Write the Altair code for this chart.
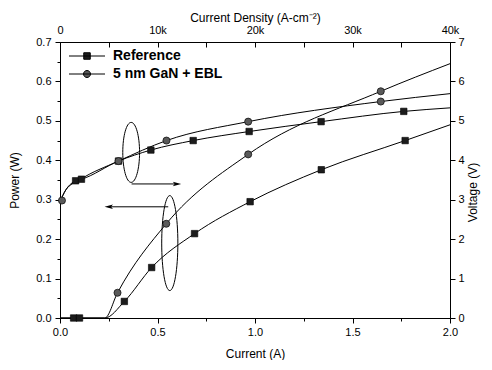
import altair as alt
import pandas as pd

series_names = ["Reference", "5 nm GaN + EBL"]

# ---- Power (W) vs Current (A) : curves ----
ref_p_line_I = [0.0, 0.23, 0.33, 0.47, 0.69, 0.975, 1.34, 1.77, 2.0]
ref_p_line_P = [0.0, 0.0, 0.042, 0.128, 0.214, 0.295, 0.376, 0.45, 0.49]
ebl_p_line_I = [0.0, 0.23, 0.295, 0.545, 0.965, 1.645, 2.0]
ebl_p_line_P = [0.0, 0.0, 0.064, 0.239, 0.415, 0.575, 0.645]
# markers
ref_p_mk_I = [0.07, 0.10, 0.33, 0.47, 0.69, 0.975, 1.34, 1.77]
ref_p_mk_P = [0.0, 0.0, 0.042, 0.128, 0.214, 0.295, 0.376, 0.45]
ebl_p_mk_I = [0.295, 0.545, 0.965, 1.645]
ebl_p_mk_P = [0.064, 0.239, 0.415, 0.575]

# ---- Voltage (V) vs Current (A) ----
ref_v_line_I = [0.0, 0.03, 0.08, 0.11, 0.30, 0.466, 0.683, 0.97, 1.339, 1.763, 2.0]
ref_v_line_V = [2.95, 3.25, 3.48, 3.52, 3.98, 4.26, 4.50, 4.73, 4.98, 5.24, 5.33]
ebl_v_line_I = [0.0, 0.03, 0.10, 0.30, 0.546, 0.965, 1.645, 2.0]
ebl_v_line_V = [2.95, 3.25, 3.50, 3.98, 4.50, 4.98, 5.49, 5.69]
ref_v_mk_I = [0.08, 0.11, 0.30, 0.466, 0.683, 0.97, 1.339, 1.763]
ref_v_mk_V = [3.48, 3.52, 3.98, 4.26, 4.50, 4.73, 4.98, 5.24]
ebl_v_mk_I = [0.01, 0.30, 0.546, 0.965, 1.645]
ebl_v_mk_V = [2.98, 3.98, 4.50, 4.98, 5.49]

# ---- annotations (in current / power units) ----
ellipse_I = [0.365, 0.563]
ellipse_P = [0.42, 0.19]
arrow_from_I = [0.367, 0.555]
arrow_to_I = [0.60, 0.25]
arrow_P = [0.34, 0.282]

# ---- ticks ----
x_ticks = [0.0, 0.25, 0.5, 0.75, 1.0, 1.25, 1.5, 1.75, 2.0]
p_ticks = [0.0, 0.05, 0.1, 0.15, 0.2, 0.25, 0.3, 0.35, 0.4, 0.45, 0.5, 0.55, 0.6, 0.65, 0.7]
v_ticks = [0, 0.5, 1, 1.5, 2, 2.5, 3, 3.5, 4, 4.5, 5, 5.5, 6, 6.5, 7]

FONT = "Liberation Sans"


def frame(I, Y, name):
    return pd.DataFrame({"I": I, "Y": Y, "s": name})


xscale = alt.Scale(domain=[0, 2], nice=False, zero=False)
pscale = alt.Scale(domain=[0, 0.7], nice=False)
vscale = alt.Scale(domain=[0, 7], nice=False)

major2 = "abs(datum.value*2 - round(datum.value*2)) < 0.001"
major10 = "abs(datum.value*10 - round(datum.value*10)) < 0.001"
major1 = "abs(datum.value - round(datum.value)) < 0.001"

bottom_axis = alt.Axis(orient="bottom", values=x_ticks, format=".1f",
                       labelExpr=f"{major2} ? datum.label : ''",
                       tickSize={"condition": {"test": major2, "value": 5}, "value": 3},
                       title="Current (A)", titlePadding=11, labelPadding=3,
                       labelFlush=False, labelOverlap=False, grid=False)
top_axis = alt.Axis(orient="top", values=x_ticks, offset=-5, domain=False,
                    labelExpr=f"datum.value == 0 ? '0' : ({major2} ? format(datum.value*20, '.0f') + 'k' : '')",
                    tickSize=5, labelPadding=7,
                    title="Current Density (A-cm⁻²)", titlePadding=0,
                    labelFlush=False, labelOverlap=False, grid=False)
left_axis = alt.Axis(orient="left", values=p_ticks, format=".1f",
                     labelExpr=f"{major10} ? datum.label : ''",
                     tickSize={"condition": {"test": major10, "value": 5}, "value": 3},
                     title="Power (W)", titlePadding=14, labelPadding=4,
                     labelFlush=False, labelOverlap=False, grid=False)
right_axis = alt.Axis(orient="right", values=v_ticks, format="d",
                      labelExpr=f"{major1} ? datum.label : ''",
                      tickSize={"condition": {"test": major1, "value": 5}, "value": 3},
                      title="Voltage (V)", titlePadding=3, labelPadding=3,
                      titleAngle=270, titleBaseline="top", titleY=150,
                      labelFlush=False, labelOverlap=False, grid=False)

X = lambda ax=None: alt.X("I:Q", scale=xscale, axis=ax)
YP = lambda ax=None: alt.Y("Y:Q", scale=pscale, axis=ax)
YV = lambda ax=None: alt.Y("Y:Q", scale=vscale, axis=ax)

line_kw = dict(color="black", strokeWidth=1, interpolate="monotone")
sq_kw = dict(shape="square", filled=True, size=42, fill="#1c1c1c", stroke="#000000", strokeWidth=0.6, opacity=1)
ci_kw = dict(shape="circle", filled=True, size=50, fill="#5a5a5a", stroke="#111111", strokeWidth=0.8, opacity=1)

# ---- power ----
p_lines_df = pd.concat([frame(ref_p_line_I, ref_p_line_P, series_names[0]),
                        frame(ebl_p_line_I, ebl_p_line_P, series_names[1])])
power_lines = alt.Chart(p_lines_df).mark_line(**line_kw).encode(
    x=X(bottom_axis), y=YP(left_axis), detail="s:N")
power_sq = alt.Chart(frame(ref_p_mk_I, ref_p_mk_P, series_names[0])).mark_point(**sq_kw).encode(x=X(), y=YP())
power_ci = alt.Chart(frame(ebl_p_mk_I, ebl_p_mk_P, series_names[1])).mark_point(**ci_kw).encode(x=X(), y=YP())

ell1 = alt.Chart(pd.DataFrame({"I": ellipse_I[:1], "Y": ellipse_P[:1]})).mark_point(
    shape="M0,-1A0.28,1 0 1,1 0,1A0.28,1 0 1,1 0,-1Z", size=3600, filled=False,
    stroke="black", strokeWidth=1, opacity=1).encode(x=X(), y=YP())
ell2 = alt.Chart(pd.DataFrame({"I": ellipse_I[1:], "Y": ellipse_P[1:]})).mark_point(
    shape="M0,-1A0.17,1 0 1,1 0,1A0.17,1 0 1,1 0,-1Z", size=9025, filled=False,
    stroke="black", strokeWidth=1, opacity=1).encode(x=X(), y=YP())

arrows_df = pd.DataFrame({"I": arrow_from_I, "I2": arrow_to_I, "Y": arrow_P})
arrow_rules = alt.Chart(arrows_df).mark_rule(color="black", strokeWidth=1).encode(
    x=X(), x2="I2:Q", y=YP())
heads_r = alt.Chart(arrows_df.iloc[:1]).mark_point(
    shape="M1,0L-1,-0.55L-0.55,0L-1,0.55Z", size=70, filled=True, fill="black", opacity=1).encode(
    x=alt.X("I2:Q", scale=xscale, axis=None), y=YP())
heads_l = alt.Chart(arrows_df.iloc[1:]).mark_point(
    shape="M-1,0L1,-0.55L0.55,0L1,0.55Z", size=70, filled=True, fill="black", opacity=1).encode(
    x=alt.X("I2:Q", scale=xscale, axis=None), y=YP())

sq_path = "M-3.6,0H3.6M-0.65,-0.65H0.65V0.65H-0.65Z"
ci_path = "M-3.6,0H3.6M0.7,0A0.7,0.7 0 1,1 -0.7,0A0.7,0.7 0 1,1 0.7,0Z"
leg = alt.Legend(title=None, orient="none", legendX=20, legendY=7, symbolSize=100,
                 symbolStrokeWidth=1, symbolOpacity=1,
                 labelFont=FONT, labelFontSize=14, labelFontWeight="bold", labelColor="black",
                 labelOffset=19, rowPadding=4, padding=0)
legend_layer = alt.Chart(pd.DataFrame({"I": [1.0, 1.0], "Y": [0.3, 0.3], "lg": series_names})).mark_point(
    filled=True, opacity=0).encode(
    x=X(), y=YP(),
    shape=alt.Shape("lg:N", scale=alt.Scale(domain=series_names, range=[sq_path, ci_path]), legend=leg),
    fill=alt.Fill("lg:N", scale=alt.Scale(domain=series_names, range=["#1c1c1c", "#5a5a5a"]), legend=leg),
    stroke=alt.Stroke("lg:N", scale=alt.Scale(domain=series_names, range=["#000000", "#000000"]), legend=leg))

# ---- voltage ----
v_lines_df = pd.concat([frame(ref_v_line_I, ref_v_line_V, series_names[0]),
                        frame(ebl_v_line_I, ebl_v_line_V, series_names[1])])
volt_lines = alt.Chart(v_lines_df).mark_line(**line_kw).encode(
    x=X(top_axis), y=YV(right_axis), detail="s:N")
volt_sq = alt.Chart(frame(ref_v_mk_I, ref_v_mk_V, series_names[0])).mark_point(**sq_kw).encode(x=X(), y=YV())
volt_ci = alt.Chart(frame(ebl_v_mk_I, ebl_v_mk_V, series_names[1])).mark_point(**ci_kw).encode(x=X(), y=YV())

chart = alt.layer(power_lines, volt_lines, power_sq, power_ci, volt_sq, volt_ci,
                  ell1, ell2, arrow_rules, heads_r, heads_l, legend_layer).resolve_scale(
    y="independent").resolve_axis(x="independent", y="independent").properties(
    width=390, height=276,
    padding={"left": 52, "top": 34, "right": 34, "bottom": 42},
    autosize=alt.AutoSizeParams(type="none"),
    background="white",
).configure_view(stroke="black", strokeWidth=1).configure_axis(
    domainColor="black", domainWidth=1, tickColor="black", tickWidth=1,
    labelColor="black", labelFont=FONT, labelFontSize=11,
    titleColor="black", titleFont=FONT, titleFontSize=12, titleFontWeight="normal",
)

chart.save("out.html", embed_options={"renderer": "svg", "actions": False})
